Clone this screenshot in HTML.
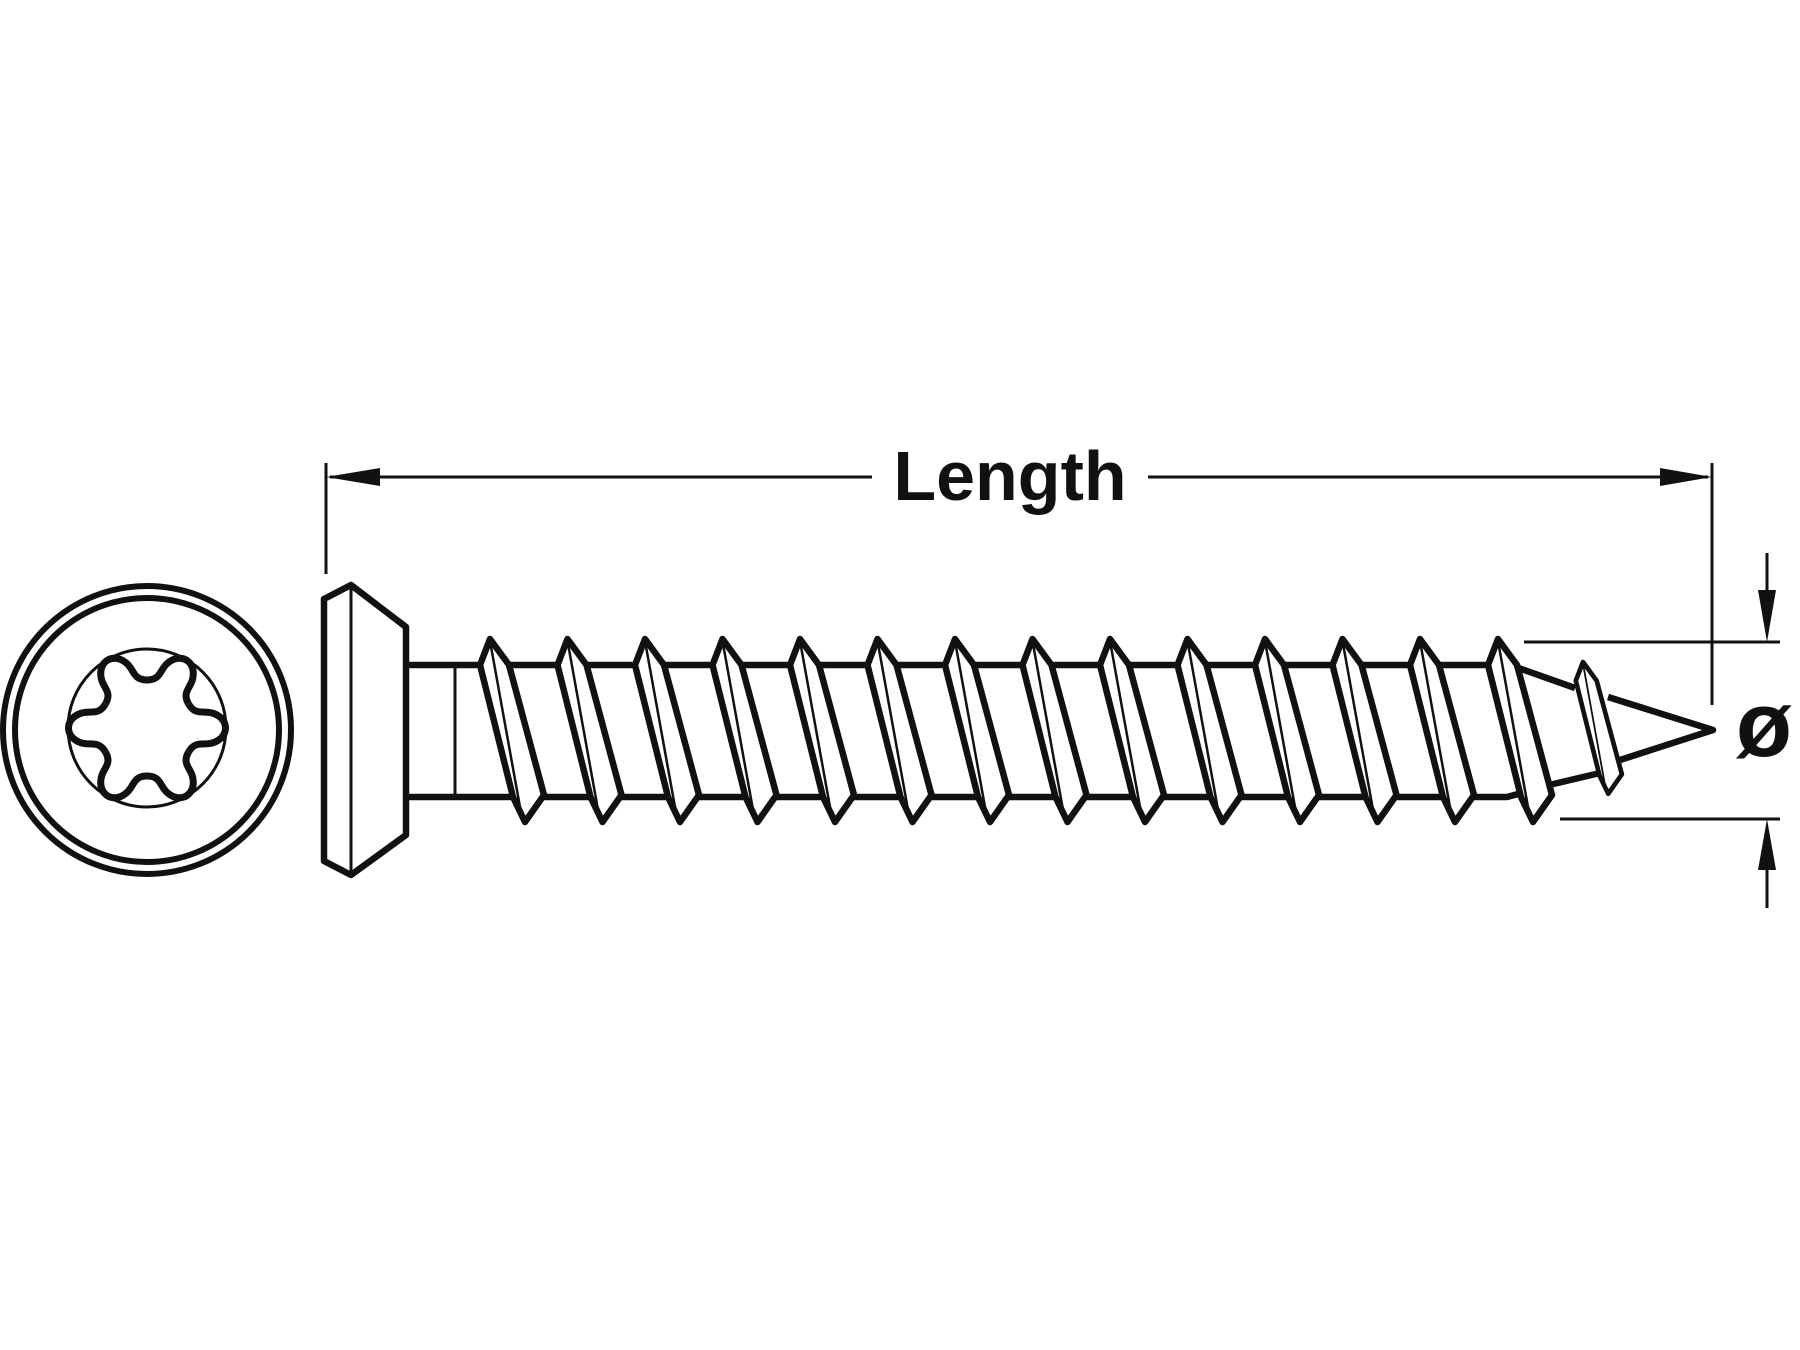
<!DOCTYPE html>
<html><head><meta charset="utf-8"><style>
html,body{margin:0;padding:0;background:#fff}
svg{display:block}
</style></head><body>
<svg width="1800" height="1350" viewBox="0 0 1800 1350" xmlns="http://www.w3.org/2000/svg">
<defs>
<g id="th">
<path d="M-10,26 L0,0 L19,26 L54,156 L35,183 L23,158 Z" fill="#fff" stroke="#111" stroke-width="6.5" stroke-linejoin="round"/>
<path d="M0,2 L30,168" stroke="#111" stroke-width="2.5" fill="none"/>
</g>
<path id="lobe" d="M41.6,-24 C49,-11 58,-19 68,-14 C82,-8 82,8 68,14 C58,19 49,11 41.6,24" fill="none" stroke="#111" stroke-width="7"/>
</defs>
<g fill="none" stroke="#111">
<circle cx="147" cy="730" r="144" stroke-width="6"/>
<circle cx="147" cy="730" r="132" stroke-width="6"/>
<circle cx="147" cy="728" r="79" stroke-width="3"/>
<g transform="translate(147,728)">
<use href="#lobe"/><use href="#lobe" transform="rotate(60)"/><use href="#lobe" transform="rotate(120)"/>
<use href="#lobe" transform="rotate(180)"/><use href="#lobe" transform="rotate(240)"/><use href="#lobe" transform="rotate(300)"/>
</g>
<path d="M351,585 L324,599 L324,861 L351,875 L406,835 L406,627 Z" stroke-width="6.5" stroke-linejoin="round"/>
<path d="M351,587 L351,873" stroke-width="3"/>
<path d="M406,665 L1510,665 L1575,688 M1608,697 L1713,730 L1620,760 M1600,773 L1545,786 M1540,788 L1507,797 L406,797" stroke-width="6.5" stroke-linejoin="round"/>
<path d="M455,665 L455,797" stroke-width="3"/>
<path d="M326,463 L326,574 M1712,463 L1712,705" stroke-width="3"/>
<path d="M330,477 L872,477 M1148,477 L1708,477" stroke-width="3"/>
<path d="M1524,642 L1780,642 M1560,819 L1780,819" stroke-width="3"/>
<path d="M1767,553 L1767,600 M1767,860 L1767,908" stroke-width="3"/>
</g>
<g fill="#111">
<path d="M326,477 L380,468 L380,486 Z"/>
<path d="M1712,477 L1660,468 L1660,486 Z"/>
<path d="M1767,642 L1758,590 L1776,590 Z"/>
<path d="M1767,819 L1758,870 L1776,870 Z"/>
</g>
<use href="#th" x="490" y="639"/><use href="#th" x="567.5" y="639"/><use href="#th" x="645" y="639"/>
<use href="#th" x="722.5" y="639"/><use href="#th" x="800" y="639"/><use href="#th" x="877.5" y="639"/>
<use href="#th" x="955" y="639"/><use href="#th" x="1032.5" y="639"/><use href="#th" x="1110" y="639"/>
<use href="#th" x="1187.5" y="639"/><use href="#th" x="1265" y="639"/><use href="#th" x="1342.5" y="639"/>
<use href="#th" x="1420" y="639"/><use href="#th" x="1498" y="639"/>
<g transform="translate(1583,662) scale(0.72)"><use href="#th"/></g>
<text x="1010" y="500" text-anchor="middle" font-family="Liberation Sans, sans-serif" font-weight="bold" font-size="70" fill="#111">Length</text>
<text x="1764" y="756" text-anchor="middle" font-family="Liberation Sans, DejaVu Sans, sans-serif" font-weight="bold" font-size="92" fill="#111">ø</text>
</svg>
</body></html>
